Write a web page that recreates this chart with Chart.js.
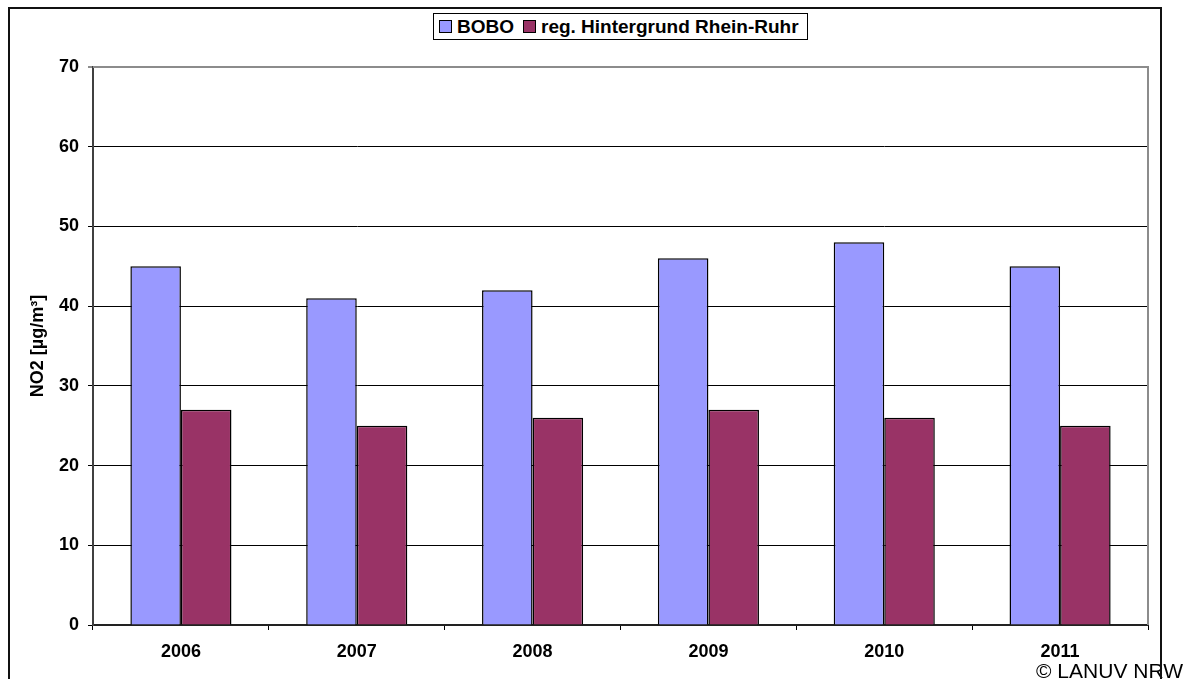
<!DOCTYPE html>
<html>
<head>
<meta charset="utf-8">
<script src="https://cdn.jsdelivr.net/npm/chart.js@4.4.1/dist/chart.umd.min.js"></script>
<style>
  html, body { margin: 0; padding: 0; background: #fff; }
  #wrap { position: relative; width: 1189px; height: 679px; overflow: hidden; }
  #legend {
    position: absolute; left: 433px; top: 13px; width: 375px; height: 27px;
    border: 1px solid #000; box-sizing: border-box; background: #fff;
    display: flex; align-items: center; white-space: nowrap;
    font: bold 19px "Liberation Sans", Arial, sans-serif; color: #000;
  }
  #legend .sw { width: 13px; height: 13px; box-sizing: border-box; border: 1px solid #000; margin-left: 5px; margin-right: 5px; }
  #legend .it { display: flex; align-items: center; margin-right: 4px; }
</style>
</head>
<body>
<div id="wrap">
  <canvas id="c" width="1189" height="679"></canvas>
  <div id="legend"></div>
</div>
<script>
// Werte
const jahre = ['2006', '2007', '2008', '2009', '2010', '2011'];
const bobo = [45, 41, 42, 46, 48, 45];
const hintergrund = [27, 25, 26, 27, 26, 25];
const serienNamen = ['BOBO', 'reg. Hintergrund Rhein-Ruhr'];
const farben = ['#9999FF', '#993366'];
const yMax = 70, yStep = 10;

const FONT = '"Liberation Sans", Arial, sans-serif';

// Legende als HTML-Kasten wie im Original
(function () {
  const lg = document.getElementById('legend');
  serienNamen.forEach((n, i) => {
    const it = document.createElement('div');
    it.className = 'it';
    const sw = document.createElement('div');
    sw.className = 'sw';
    sw.style.background = farben[i];
    const t = document.createElement('span');
    t.textContent = n;
    it.appendChild(sw); it.appendChild(t);
    lg.appendChild(it);
  });
})();

// Rahmen, rechte Plotkante und Copyright
const extras = {
  id: 'extras',
  beforeDatasetsDraw(chart) {
    const { ctx, chartArea: a } = chart;
    ctx.save();
    ctx.strokeStyle = '#8c8c8c';
    ctx.lineWidth = 2;
    ctx.beginPath();
    ctx.moveTo(a.left, a.top);
    ctx.lineTo(a.right, a.top);
    ctx.lineTo(a.right, a.bottom);
    ctx.stroke();
    ctx.restore();
  },
  afterDraw(chart) {
    const { ctx } = chart;
    ctx.save();
    ctx.font = '21px ' + FONT;
    ctx.fillStyle = '#000';
    ctx.textAlign = 'right';
    ctx.textBaseline = 'alphabetic';
    ctx.fillText('\u00a9 LANUV NRW', 1183, 678);
    ctx.strokeStyle = '#111';
    ctx.lineWidth = 2;
    ctx.strokeRect(9, 8, 1152, 700);
    ctx.restore();
  },
};

new Chart(document.getElementById('c').getContext('2d'), {
  type: 'bar',
  data: {
    labels: jahre,
    datasets: [
      { label: serienNamen[0], data: bobo, backgroundColor: farben[0], borderColor: '#000', borderWidth: 1.5 },
      { label: serienNamen[1], data: hintergrund, backgroundColor: farben[1], borderColor: '#000', borderWidth: 1.5 },
    ],
  },
  options: {
    responsive: false, animation: false,
    layout: { padding: { left: 0, top: 67, right: 41, bottom: 0 } },
    categoryPercentage: 0.575, barPercentage: 1,
    plugins: { legend: { display: false }, tooltip: { enabled: false } },
    scales: {
      x: {
        afterFit: (s) => { s.height = 54; },
        grid: { offset: true, drawOnChartArea: false, tickLength: 5, color: '#000', lineWidth: 1 },
        border: { color: '#222', width: 2 },
        ticks: { color: '#000', padding: 11, font: { family: FONT, size: 18, weight: 'bold' } },
      },
      y: {
        min: 0, max: yMax,
        afterFit: (s) => { s.width = 93; },
        grid: { color: (c) => (c.tick && c.tick.value === yMax ? '#8c8c8c' : '#000'), lineWidth: (c) => (c.tick && c.tick.value === yMax ? 2 : 1), tickLength: 5 },
        border: { color: '#404040', width: 2 },
        ticks: { stepSize: yStep, color: '#000', padding: 9, font: { family: FONT, size: 18, weight: 'bold' } },
        title: { display: true, text: 'NO2 [\u00b5g/m\u00b3]', color: '#000', padding: { top: 27, bottom: 0 }, font: { family: FONT, size: 18, weight: 'bold' } },
      },
    },
  },
  plugins: [extras],
});
</script>
</body>
</html>
